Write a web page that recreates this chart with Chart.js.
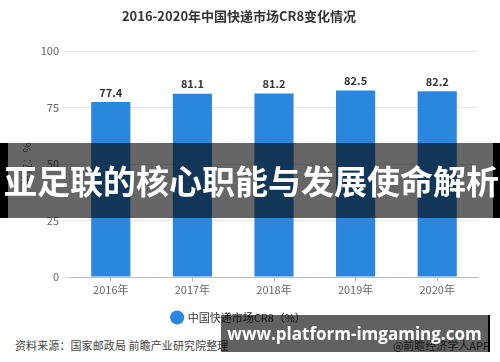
<!DOCTYPE html>
<html>
<head>
<meta charset="utf-8">
<script src="https://cdn.jsdelivr.net/npm/chart.js@4/dist/chart.umd.min.js"></script>
<style>
  html, body { margin: 0; padding: 0; background: #fff; }
  #wrap { position: relative; width: 500px; height: 362px; overflow: hidden;
          font-family: 'Noto Sans CJK SC', 'Noto Sans', sans-serif; }
  #chart-box { position: absolute; left: 0; top: 0; width: 500px; height: 333px; }
  .source { position: absolute; left: 15px; top: 337px; font-size: 11px; color: #444; letter-spacing: 0.1px; }
  .app { position: absolute; right: 10px; top: 337px; font-size: 11px; color: #444; }
  .banner { position: absolute; left: 0; top: 143px; width: 500px; height: 75px;
            background: rgba(0,0,0,0.6); box-sizing: border-box;
            border-left: 8px solid #000; border-right: 7px solid #000;
            color: #fff; font-weight: bold; font-size: 33px; line-height: 75px;
            text-align: center; white-space: nowrap; }
  .banner span { position: relative; left: -4px; }
  .site { position: absolute; left: 221px; top: 315px; width: 269px; height: 37px;
          background: rgba(0,0,0,0.62); box-sizing: border-box; border-right: 2px solid #000;
          color: #fff; font-weight: bold; font-size: 17px; line-height: 37px;
          text-align: center; white-space: nowrap; font-family: 'Open Sans', 'Noto Sans', sans-serif; }
</style>
</head>
<body>
<div id="wrap">
  <div id="chart-box"><canvas id="chart-cr8"></canvas></div>
  <div class="source">资料来源：国家邮政局 前瞻产业研究院整理</div>
  <div class="app">@前瞻经济学人APP</div>
  <div class="banner"><span>亚足联的核心职能与发展使命解析</span></div>
  <div class="site">www.platform-imgaming.com</div>
</div>
<script>
// Chart data
const years = ['2016年', '2017年', '2018年', '2019年', '2020年'];
const cr8Values = [77.4, 81.1, 81.2, 82.5, 82.2];
const yTicks = [0, 25, 50, 75, 100];

const COLORS = {
    bar: '#2b87dd',
    text: '#333333',
    tick: '#666666',
    grid: '#e6e6e6',
    axis: '#bbbbbb'
};

const FONT = "'Noto Sans CJK SC', 'Noto Sans', sans-serif";

// Value labels above each bar
const valueLabels = {
    id: 'valueLabels',
    afterDatasetsDraw(chart) {
        const ctx = chart.ctx;
        const meta = chart.getDatasetMeta(0);
        ctx.save();
        ctx.font = 'bold 11px ' + FONT;
        ctx.fillStyle = COLORS.text;
        ctx.textAlign = 'center';
        ctx.textBaseline = 'bottom';
        meta.data.forEach((bar, i) => {
            ctx.fillText(cr8Values[i].toFixed(1), bar.x, bar.y - 4);
        });
        ctx.restore();
    }
};

new Chart(document.getElementById('chart-cr8').getContext('2d'), {
    type: 'bar',
    data: {
        labels: years,
        datasets: [{
            label: '中国快递市场CR8（%）',
            data: cr8Values,
            backgroundColor: COLORS.bar,
            categoryPercentage: 1,
            barPercentage: 0.48
        }]
    },
    options: {
        responsive: true,
        maintainAspectRatio: false,
        animation: false,
        layout: { padding: { left: 0, right: 22, top: 0, bottom: 0 } },
        plugins: {
            title: {
                display: true,
                text: '2016-2020年中国快递市场CR8变化情况',
                color: COLORS.text,
                font: { family: FONT, size: 13, weight: 'bold' },
                padding: { top: 8, bottom: 27.4 }
            },
            legend: {
                position: 'bottom',
                labels: {
                    usePointStyle: true,
                    pointStyle: 'circle',
                    boxWidth: 10,
                    boxHeight: 10,
                    color: COLORS.text,
                    font: { family: FONT, size: 11 },
                    padding: 10
                }
            },
            tooltip: { enabled: false }
        },
        scales: {
            x: {
                afterFit: (scale) => { scale.height = 25; },
                grid: { display: true, drawOnChartArea: false, offset: false, tickLength: 5, color: COLORS.axis },
                border: { display: true, color: COLORS.axis },
                ticks: { color: COLORS.tick, font: { family: FONT, size: 11 }, padding: 1 }
            },
            y: {
                min: 0,
                max: 100,
                afterBuildTicks: (scale) => { scale.ticks = yTicks.map(v => ({ value: v })); },
                afterFit: (scale) => { scale.width = 70; },
                grid: { color: COLORS.grid, tickLength: 7 },
                border: { display: false },
                ticks: { color: COLORS.tick, font: { family: FONT, size: 11 }, padding: 4 },
                title: {
                    display: true,
                    text: '单位：%',
                    color: COLORS.tick,
                    font: { family: FONT, size: 11 },
                    padding: { top: 20 }
                }
            }
        }
    },
    plugins: [valueLabels]
});
</script>
</body>
</html>
